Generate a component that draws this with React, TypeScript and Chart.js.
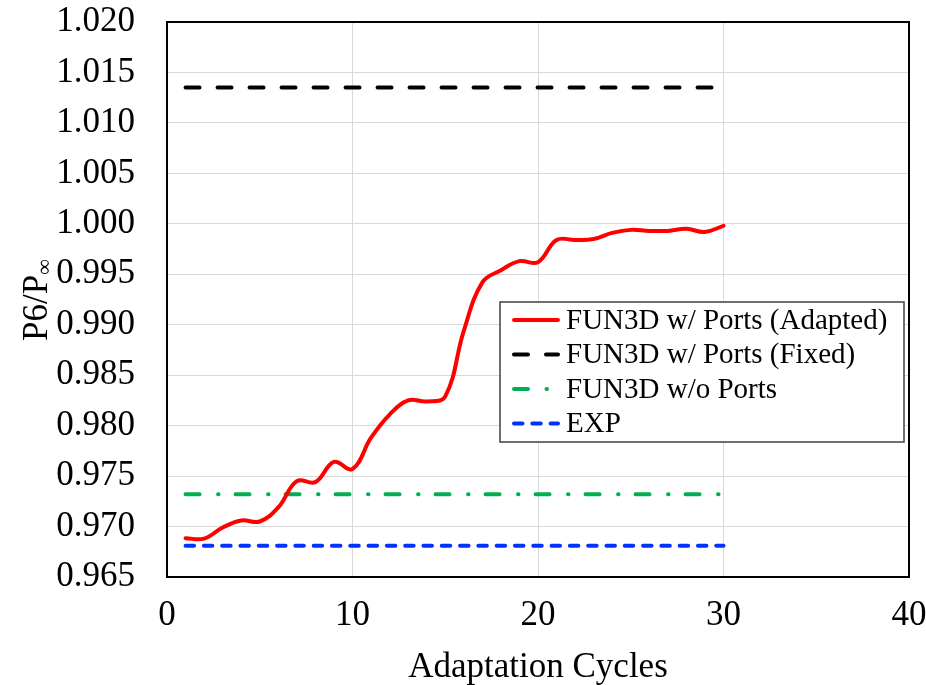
import React, { useEffect, useRef } from 'react';
import { Chart, registerables } from 'chart.js';

Chart.register(...registerables);

// ---- data ----
const cycles: number[] = [1, 2, 3, 4, 5, 6, 7, 8, 9, 10, 11, 12, 13, 14, 15, 16, 17, 18, 19, 20, 21, 22, 23, 24, 25, 26, 27, 28, 29, 30];
const adaptedValues: number[] = [
  0.96885, 0.9688, 0.9699, 0.9706, 0.9705, 0.9719, 0.9745, 0.9744, 0.9764, 0.9757,
  0.9788, 0.9811, 0.9825, 0.9824, 0.9829, 0.9894, 0.9942, 0.9954, 0.9963, 0.9962,
  0.9984, 0.9984, 0.9985, 0.9991, 0.9994, 0.9993, 0.9993, 0.9995, 0.9992, 0.9998,
];
const flatX: number[] = [1, 30];
const fixedValues: number[] = [1.0135, 1.0135];
const noPortsValues: number[] = [0.9732, 0.9732];
const expValues: number[] = [0.9681, 0.9681];

const seriesLabels: string[] = [
  'FUN3D w/ Ports (Adapted)',
  'FUN3D w/ Ports (Fixed)',
  'FUN3D w/o Ports',
  'EXP',
];
const xTickValues: number[] = [0, 10, 20, 30, 40];
const yMin = 0.965;
const yMax = 1.02;
const yStep = 0.005;
const xTitle = 'Adaptation Cycles';
const yTitleMain = 'P6/P';
const yTitleSub = '∞';

const FONT = "'Liberation Serif', 'Times New Roman', serif";

const toPoints = (xs: number[], ys: number[]) => xs.map((x, i) => ({ x, y: ys[i] }));

const framePlugin = {
  id: 'frameAndTitles',
  afterDatasetsDraw(chart: any) {
    const { ctx, chartArea } = chart;
    ctx.save();
    // plot frame
    ctx.strokeStyle = '#000';
    ctx.lineWidth = 2;
    ctx.strokeRect(chartArea.left, chartArea.top, chartArea.right - chartArea.left, chartArea.bottom - chartArea.top);

    // legend
    const bx = 500, by = 302, bw = 404, bh = 140;
    ctx.fillStyle = '#fff';
    ctx.fillRect(bx, by, bw, bh);
    ctx.strokeStyle = '#404040';
    ctx.lineWidth = 1.5;
    ctx.strokeRect(bx, by, bw, bh);
    const rowY0 = 320;
    const rowGap = 34.5;
    chart.data.datasets.forEach((ds: any, i: number) => {
      const y = rowY0 + i * rowGap;
      ctx.save();
      ctx.strokeStyle = ds.borderColor;
      ctx.lineWidth = ds.borderWidth;
      ctx.lineCap = 'round';
      ctx.setLineDash(ds.borderDash || []);
      ctx.beginPath();
      ctx.moveTo(514, y);
      ctx.lineTo(558, y);
      ctx.stroke();
      ctx.restore();
      ctx.fillStyle = '#000';
      ctx.font = `29px ${FONT}`;
      ctx.textAlign = 'left';
      ctx.textBaseline = 'middle';
      ctx.fillText(ds.label, 566, y + 1);
    });

    // x title
    ctx.fillStyle = '#000';
    ctx.font = `35px ${FONT}`;
    ctx.textAlign = 'center';
    ctx.textBaseline = 'middle';
    ctx.fillText(xTitle, (chartArea.left + chartArea.right) / 2, 668);

    // y title (rotated, with subscript)
    ctx.save();
    ctx.translate(36, 300);
    ctx.rotate(-Math.PI / 2);
    ctx.font = `35px ${FONT}`;
    const wMain = ctx.measureText(yTitleMain).width;
    ctx.font = `22px ${FONT}`;
    const wSub = ctx.measureText(yTitleSub).width;
    const total = wMain + wSub;
    ctx.textAlign = 'left';
    ctx.textBaseline = 'alphabetic';
    ctx.font = `35px ${FONT}`;
    ctx.fillText(yTitleMain, -total / 2, 11);
    ctx.font = `22px ${FONT}`;
    ctx.fillText(yTitleSub, -total / 2 + wMain, 15);
    ctx.restore();

    ctx.restore();
  },
};

export default function App() {
  const canvasRef = useRef<HTMLCanvasElement | null>(null);

  useEffect(() => {
    if (!canvasRef.current) return;
    const chart = new Chart(canvasRef.current, {
      type: 'line',
      data: {
        datasets: [
          {
            label: seriesLabels[0],
            data: toPoints(cycles, adaptedValues),
            borderColor: '#ff0000',
            borderWidth: 4,
            tension: 0.4,
            pointRadius: 0,
            borderCapStyle: 'round',
            fill: false,
          },
          {
            label: seriesLabels[1],
            data: toPoints(flatX, fixedValues),
            borderColor: '#000000',
            borderWidth: 4,
            borderDash: [14, 18],
            borderCapStyle: 'round',
            pointRadius: 0,
            fill: false,
          },
          {
            label: seriesLabels[2],
            data: toPoints(flatX, noPortsValues),
            borderColor: '#00b050',
            borderWidth: 4,
            borderDash: [14, 18.5, 0.5, 17],
            borderCapStyle: 'round',
            pointRadius: 0,
            fill: false,
          },
          {
            label: seriesLabels[3],
            data: toPoints(flatX, expValues),
            borderColor: '#0033ff',
            borderWidth: 4,
            borderDash: [8.5, 9.8],
            borderCapStyle: 'round',
            pointRadius: 0,
            fill: false,
          },
        ],
      },
      options: {
        responsive: false,
        animation: false,
        layout: { padding: { top: 22, right: 17, left: 0, bottom: 0 } },
        plugins: {
          legend: { display: false },
          tooltip: { enabled: false },
          title: { display: false },
        },
        scales: {
          x: {
            type: 'linear',
            min: xTickValues[0],
            max: xTickValues[xTickValues.length - 1],
            afterBuildTicks: (scale: any) => {
              scale.ticks = xTickValues.map((v) => ({ value: v }));
            },
            afterFit: (scale: any) => {
              scale.height = 108;
              scale.paddingLeft = 0;
              scale.paddingRight = 0;
              scale.paddingTop = 0;
              scale.paddingBottom = 0;
            },
            grid: { color: '#d9d9d9', lineWidth: 1, drawTicks: false },
            border: { display: false },
            ticks: {
              color: '#000',
              font: { family: FONT, size: 35 },
              padding: 18,
              maxRotation: 0,
              callback: (v: any) => String(v),
            },
          },
          y: {
            type: 'linear',
            min: yMin,
            max: yMax,
            afterFit: (scale: any) => {
              scale.width = 167;
              scale.paddingLeft = 0;
              scale.paddingRight = 0;
              scale.paddingTop = 0;
              scale.paddingBottom = 0;
            },
            grid: { color: '#d9d9d9', lineWidth: 1, drawTicks: false },
            border: { display: false },
            ticks: {
              stepSize: yStep,
              color: '#000',
              font: { family: FONT, size: 35 },
              padding: 32,
              callback: (v: any) => Number(v).toFixed(3),
            },
          },
        },
      },
      plugins: [framePlugin],
    } as any);
    return () => chart.destroy();
  }, []);

  return (
    <div style={{ position: 'fixed', left: 0, top: 0, width: 926, height: 685, background: '#fff' }}>
      <canvas ref={canvasRef} width={926} height={685} style={{ display: 'block', width: 926, height: 685 }} />
    </div>
  );
}
